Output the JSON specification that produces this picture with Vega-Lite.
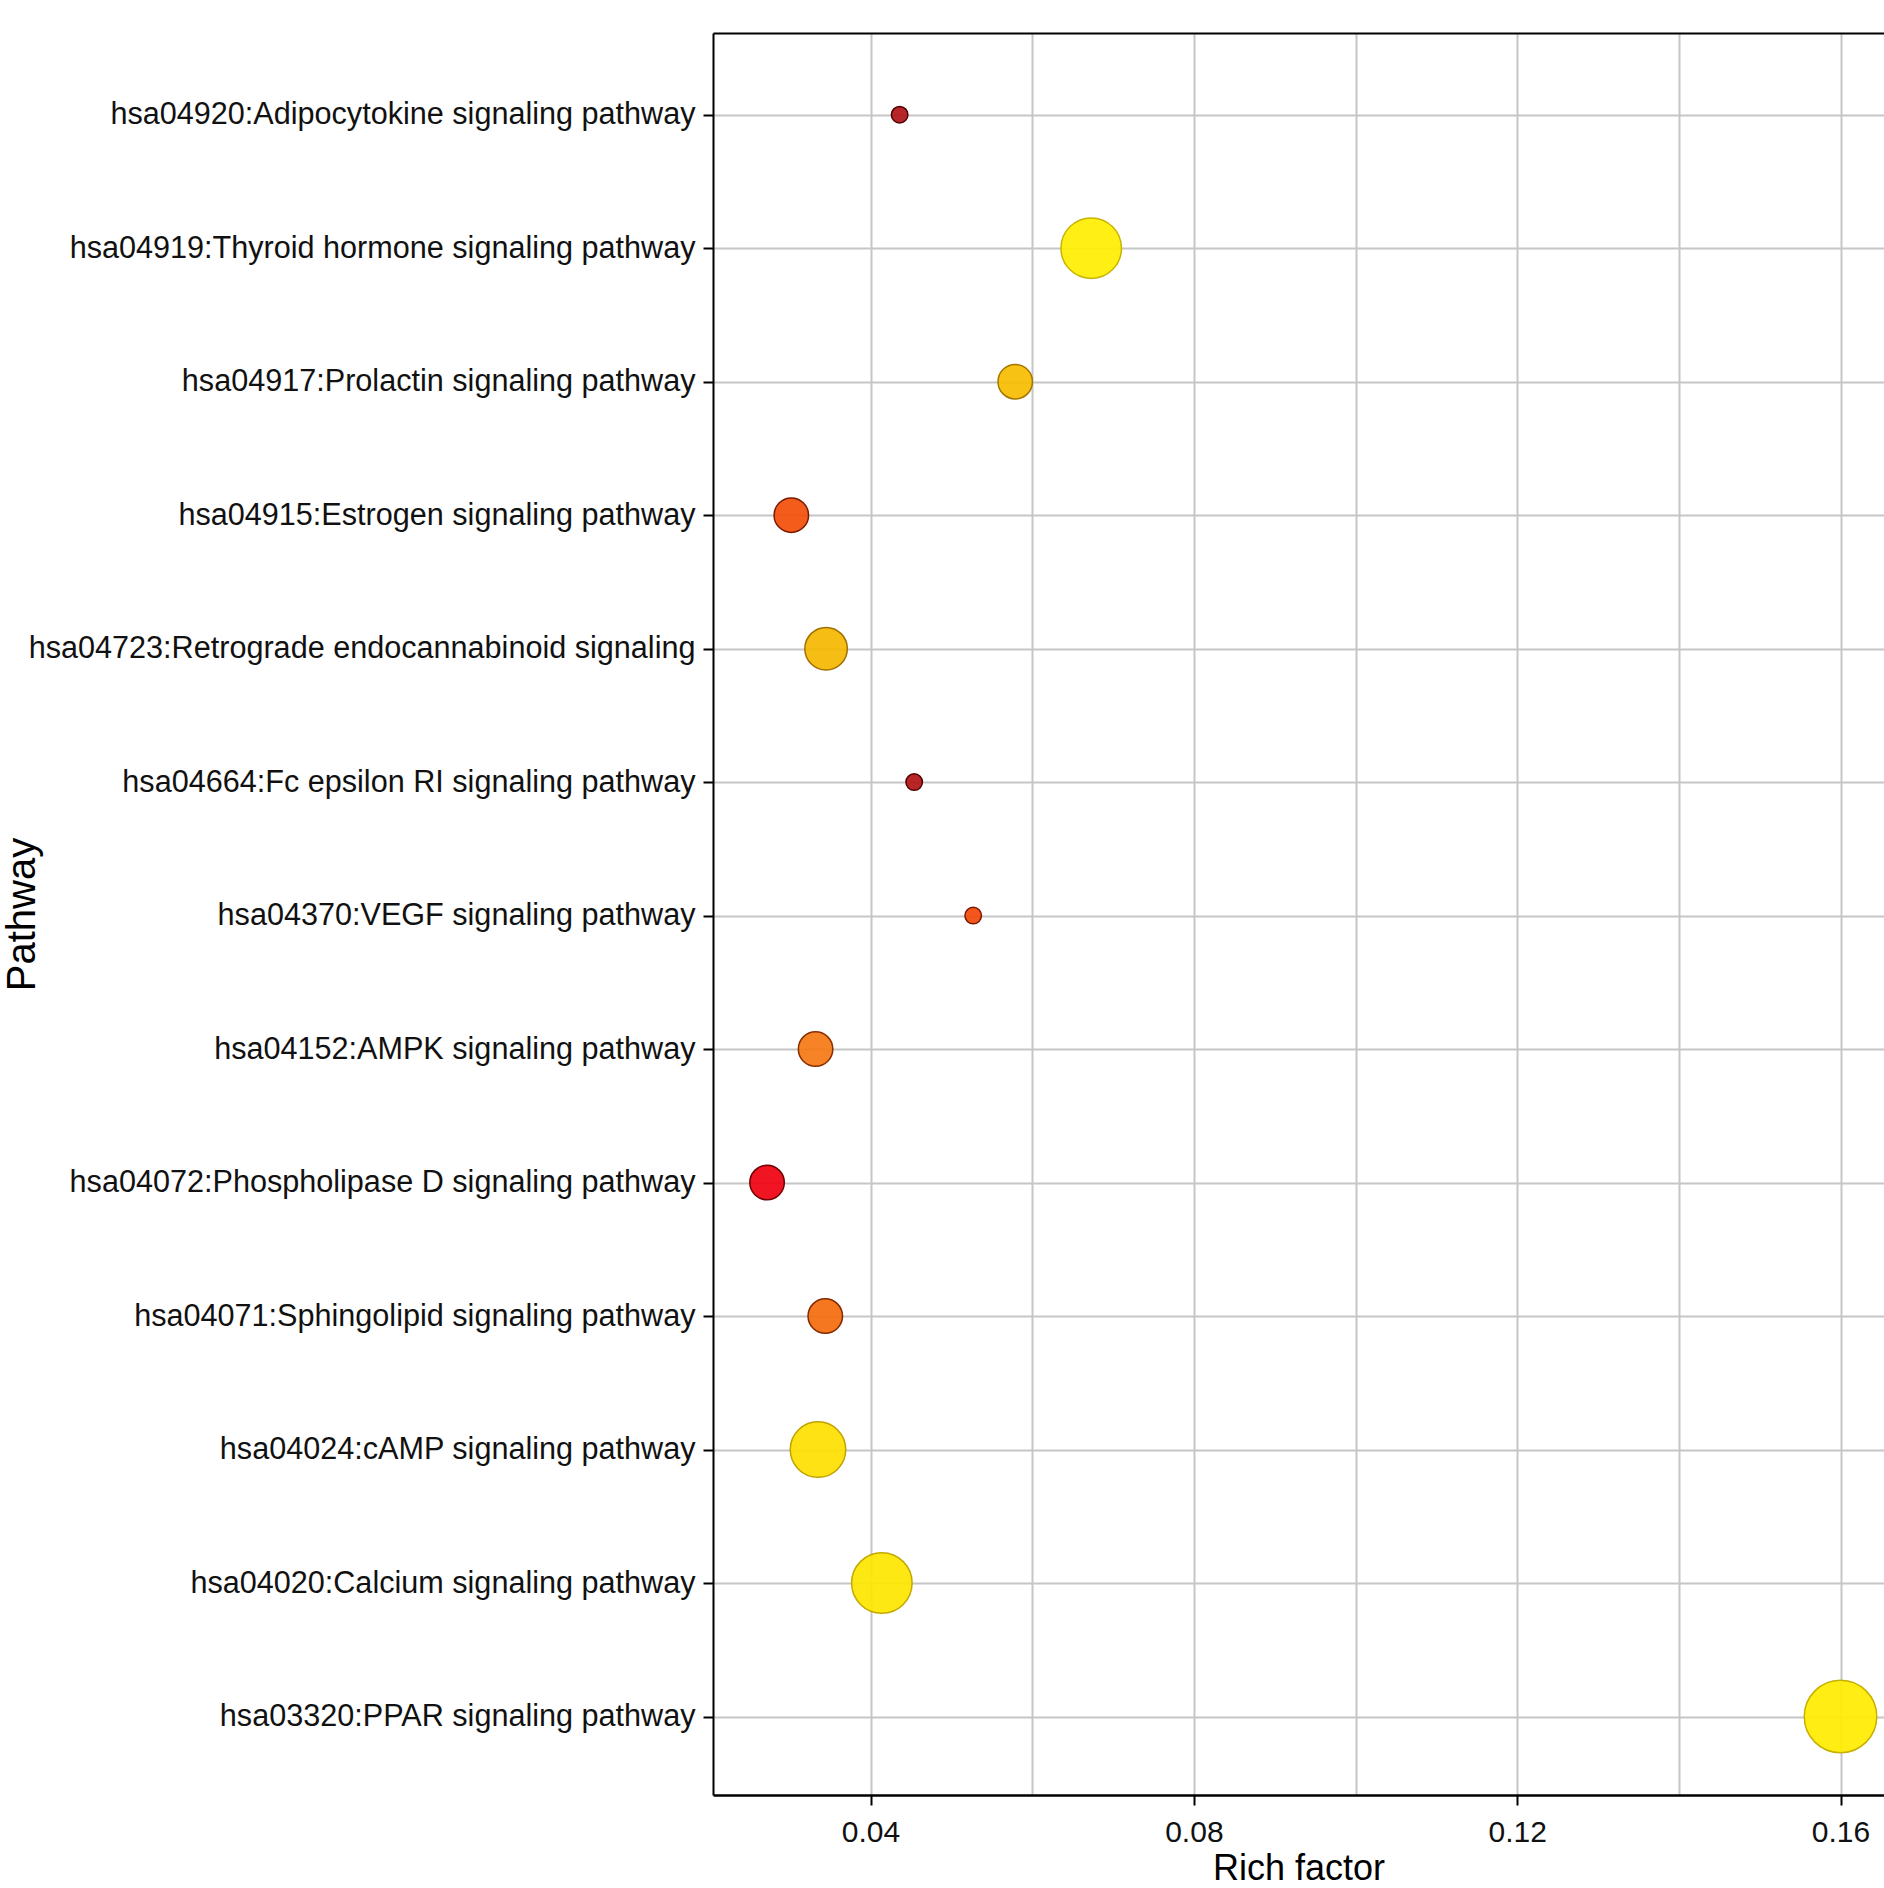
{
  "$schema": "https://vega.github.io/schema/vega-lite/v6.json",
  "autosize": {"type": "none"},
  "padding": {"left": 713, "top": 33, "right": 0, "bottom": 93},
  "width": 1171,
  "height": 1762,
  "background": "white",
  "config": {
    "view": {"stroke": null},
    "font": "Liberation Sans",
    "axis": {
      "domainColor": "#000000",
      "domainWidth": 2,
      "tickColor": "#000000",
      "tickWidth": 2,
      "tickSize": 10,
      "gridColor": "#c6c6c6",
      "gridWidth": 2,
      "gridOpacity": 1,
      "labelFont": "Liberation Sans",
      "labelColor": "#111111",
      "labelFontSize": 30,
      "titleFont": "Liberation Sans",
      "titleColor": "#000000",
      "titleFontWeight": "normal"
    }
  },
  "data": {
    "values": [
      {"Pathway": "hsa04920:Adipocytokine signaling pathway", "Rich factor": 0.0436, "Count": 2, "neglog10P": 1.1},
      {"Pathway": "hsa04919:Thyroid hormone signaling pathway", "Rich factor": 0.0673, "Count": 8, "neglog10P": 5.0},
      {"Pathway": "hsa04917:Prolactin signaling pathway", "Rich factor": 0.0579, "Count": 3, "neglog10P": 4.1},
      {"Pathway": "hsa04915:Estrogen signaling pathway", "Rich factor": 0.0302, "Count": 3, "neglog10P": 2.45},
      {"Pathway": "hsa04723:Retrograde endocannabinoid signaling", "Rich factor": 0.0345, "Count": 4, "neglog10P": 4.0},
      {"Pathway": "hsa04664:Fc epsilon RI signaling pathway", "Rich factor": 0.0454, "Count": 2, "neglog10P": 1.15},
      {"Pathway": "hsa04370:VEGF signaling pathway", "Rich factor": 0.0527, "Count": 2, "neglog10P": 2.4},
      {"Pathway": "hsa04152:AMPK signaling pathway", "Rich factor": 0.0332, "Count": 3, "neglog10P": 3.0},
      {"Pathway": "hsa04072:Phospholipase D signaling pathway", "Rich factor": 0.0272, "Count": 3, "neglog10P": 2.0},
      {"Pathway": "hsa04071:Sphingolipid signaling pathway", "Rich factor": 0.0344, "Count": 3, "neglog10P": 2.8},
      {"Pathway": "hsa04024:cAMP signaling pathway", "Rich factor": 0.0335, "Count": 7, "neglog10P": 4.75},
      {"Pathway": "hsa04020:Calcium signaling pathway", "Rich factor": 0.0414, "Count": 8, "neglog10P": 4.85},
      {"Pathway": "hsa03320:PPAR signaling pathway", "Rich factor": 0.16, "Count": 12, "neglog10P": 4.95}
    ]
  },
  "layer": [
    {
      "mark": {"type": "circle", "opacity": 1, "fillOpacity": 0.92, "strokeWidth": 1.5, "strokeOpacity": 1},
      "encoding": {
        "x": {
          "field": "Rich factor",
          "type": "quantitative",
          "scale": {"domain": [0.02051, 0.16538], "nice": false, "zero": false},
          "axis": {
            "orient": "bottom",
            "title": "Rich factor",
            "titleFontSize": 36,
            "titlePadding": 4,
            "values": [0.04, 0.06, 0.08, 0.1, 0.12, 0.14, 0.16],
            "labelExpr": "round(datum.value*100) % 4 == 0 ? format(datum.value, '.2f') : ''",
            "tickOpacity": {"condition": {"test": "round(datum.value*100) % 4 == 0", "value": 1}, "value": 0},
            "labelPadding": 12,
            "domainWidth": 2.5,
            "grid": true
          }
        },
        "y": {
          "field": "Pathway",
          "type": "nominal",
          "sort": null,
          "scale": {"padding": 0.6, "align": 0.51},
          "axis": {
            "title": "Pathway",
            "titleFontSize": 40,
            "titleX": -671,
            "labelFontSize": 30.6,
            "labelLimit": 1200,
            "labelPadding": 8,
            "grid": true
          }
        },
        "size": {
          "field": "Count",
          "type": "quantitative",
          "scale": {"domain": [2, 3, 4, 7, 8, 12], "range": [272, 1190, 1806, 3080, 3660, 5256]},
          "legend": null
        },
        "fill": {
          "field": "neglog10P",
          "type": "quantitative",
          "scale": {"domain": [1, 2, 3, 4, 5], "range": ["#a81616", "#f00010", "#f57a14", "#f5b800", "#ffee00"]},
          "legend": null
        },
        "stroke": {
          "field": "neglog10P",
          "type": "quantitative",
          "scale": {"domain": [1, 2, 3, 4, 5], "range": ["#4a0000", "#700000", "#8a3000", "#a07000", "#c8b400"]},
          "legend": null
        }
      }
    },
    {
      "mark": {"type": "point", "opacity": 0},
      "encoding": {
        "x": {
          "field": "Rich factor",
          "type": "quantitative",
          "axis": {"orient": "top", "labels": false, "ticks": false, "grid": false, "title": null, "domainColor": "#000000", "domainWidth": 2}
        }
      }
    }
  ],
  "resolve": {"axis": {"x": "independent"}}
}
